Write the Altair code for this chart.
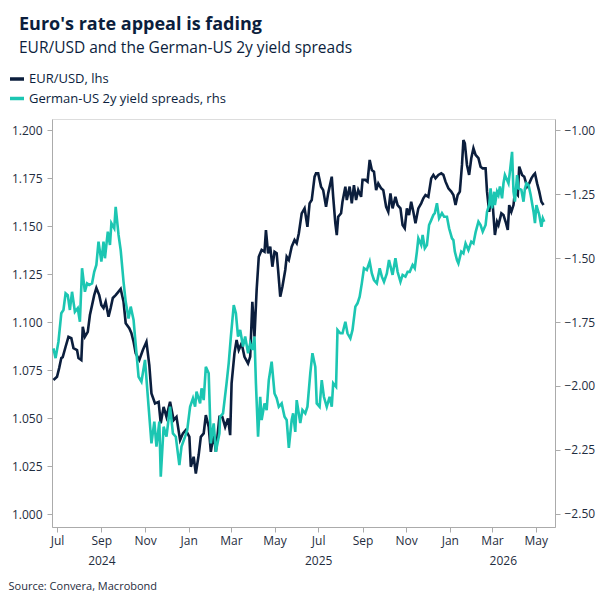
import altair as alt
import pandas as pd

# Days counted from 1 Jul 2024
eur_day = [
    -5, 0, 3, 6, 8, 12, 16, 20, 23, 28,
    30, 34, 36, 39, 43, 46, 49, 52, 55, 59,
    62, 65, 68, 72, 75, 78, 82, 86, 89, 93,
    96, 101, 104, 107, 110, 115, 120, 125, 129, 132,
    137, 142, 145, 149, 153, 158, 163, 167, 172, 176,
    180, 185, 187, 191, 194, 198, 201, 205, 208, 212,
    215, 219, 222, 227, 231, 235, 239, 242, 244, 248,
    251, 254, 258, 262, 267, 270, 273, 276, 279, 282,
    286, 290, 292, 295, 298, 301, 304, 307, 309, 312,
    315, 319, 321, 324, 328, 332, 335, 338, 342, 346,
    350, 353, 356, 360, 362, 365, 369, 372, 376, 379,
    384, 386, 389, 391, 393, 397, 399, 403, 405, 409,
    412, 415, 418, 421, 425, 427, 431, 434, 437, 440,
    443, 446, 449, 453, 456, 460, 463, 466, 469, 473,
    476, 480, 483, 486, 489, 492, 495, 498, 501, 505,
    509, 512, 515, 519, 523, 526, 529, 533, 537, 540,
    543, 547, 551, 554, 557, 560, 563, 566, 568, 570,
    573, 576, 579, 582, 585, 589, 592, 595, 599, 601,
    604, 606, 609, 612, 615, 617, 621, 624, 627, 630,
    632, 635, 638, 640, 644, 646, 650, 653, 657, 660,
    663, 666, 668, 671, 674, 677, 680,
]
eur_val = [
    1.0698, 1.0715, 1.0760, 1.0812, 1.0817, 1.0871, 1.0923, 1.0916, 1.0864, 1.0854,
    1.0812, 1.0802, 1.0975, 1.0923, 1.0949, 1.1036, 1.1088, 1.1140, 1.1177, 1.1140,
    1.1088, 1.1073, 1.1105, 1.1027, 1.1073, 1.1125, 1.1140, 1.1158, 1.1172, 1.1105,
    1.0994, 1.0968, 1.0942, 1.0897, 1.0837, 1.0802, 1.0854, 1.0897, 1.0776, 1.0628,
    1.0576, 1.0584, 1.0472, 1.0558, 1.0506, 1.0584, 1.0489, 1.0506, 1.0385, 1.0420,
    1.0437, 1.0402, 1.0246, 1.0298, 1.0211, 1.0307, 1.0402, 1.0420, 1.0515, 1.0454,
    1.0324, 1.0420, 1.0324, 1.0506, 1.0506, 1.0454, 1.0498, 1.0411, 1.0680, 1.0837,
    1.0906, 1.0854, 1.0889, 1.0819, 1.0784, 1.0819, 1.1105, 1.0923, 1.1166, 1.1340,
    1.1375, 1.1366, 1.1479, 1.1358, 1.1392, 1.1288, 1.1366, 1.1358, 1.1271, 1.1132,
    1.1184, 1.1271, 1.1340, 1.1323, 1.1392, 1.1427, 1.1410, 1.1462, 1.1566, 1.1592,
    1.1496, 1.1618, 1.1635, 1.1757, 1.1774, 1.1774, 1.1705, 1.1687, 1.1600, 1.1670,
    1.1757, 1.1652, 1.1514, 1.1453, 1.1548, 1.1566, 1.1626, 1.1705, 1.1635, 1.1705,
    1.1618, 1.1713, 1.1635, 1.1687, 1.1652, 1.1740, 1.1740, 1.1731, 1.1844, 1.1792,
    1.1783, 1.1687, 1.1722, 1.1696, 1.1687, 1.1600, 1.1574, 1.1670, 1.1592, 1.1652,
    1.1609, 1.1592, 1.1505, 1.1488, 1.1592, 1.1557, 1.1626, 1.1574, 1.1514, 1.1592,
    1.1618, 1.1644, 1.1661, 1.1652, 1.1748, 1.1766, 1.1748, 1.1766, 1.1774, 1.1766,
    1.1731, 1.1696, 1.1679, 1.1661, 1.1609, 1.1661, 1.1679, 1.1818, 1.1948, 1.1931,
    1.1818, 1.1766, 1.1853, 1.1905, 1.1870, 1.1853, 1.1809, 1.1800, 1.1800, 1.1679,
    1.1574, 1.1626, 1.1609, 1.1453, 1.1522, 1.1505, 1.1566, 1.1557, 1.1522, 1.1479,
    1.1609, 1.1574, 1.1609, 1.1679, 1.1661, 1.1809, 1.1766, 1.1757, 1.1705, 1.1722,
    1.1748, 1.1766, 1.1774, 1.1722, 1.1679, 1.1626, 1.1609,
]

spr_day = [
    -5, -2, 2, 6, 9, 12, 15, 18, 21, 25,
    29, 32, 35, 37, 39, 42, 45, 49, 52, 55,
    58, 62, 65, 67, 71, 74, 76, 80, 82, 86,
    89, 93, 96, 100, 103, 107, 109, 114, 118, 123,
    128, 132, 136, 139, 143, 145, 149, 153, 158, 162,
    166, 171, 174, 179, 182, 186, 190, 193, 195, 200,
    202, 205, 208, 212, 215, 219, 222, 227, 228, 232,
    237, 240, 243, 247, 250, 253, 256, 260, 263, 267,
    270, 273, 276, 278, 281, 284, 286, 290, 293, 296,
    300, 304, 307, 310, 314, 318, 321, 324, 328, 330,
    333, 335, 340, 343, 347, 350, 354, 357, 361, 363,
    367, 370, 373, 377, 381, 384, 386, 390, 392, 396,
    399, 403, 406, 410, 413, 417, 420, 423, 426, 429,
    433, 437, 440, 443, 447, 451, 454, 457, 461, 464,
    469, 473, 476, 480, 483, 487, 490, 493, 497, 500,
    503, 505, 509, 511, 514, 517, 520, 523, 526, 528,
    531, 534, 538, 541, 545, 548, 552, 554, 556, 559,
    561, 565, 568, 571, 575, 579, 582, 585, 589, 592,
    595, 599, 601, 604, 606, 608, 611, 612, 615, 617,
    619, 622, 624, 626, 629, 631, 633, 636, 638, 640,
    643, 645, 649, 652, 654, 656, 659, 662, 666, 668,
    670, 674, 677, 679, 681,
]
spr_val = [
    -1.853, -1.891, -1.827, -1.716, -1.703, -1.638, -1.645, -1.703, -1.632, -1.710,
    -1.696, -1.749, -1.540, -1.586, -1.632, -1.599, -1.605, -1.599, -1.554, -1.527,
    -1.436, -1.514, -1.436, -1.501, -1.397, -1.449, -1.364, -1.384, -1.300, -1.410,
    -1.469, -1.593, -1.671, -1.736, -1.690, -1.742, -1.807, -1.964, -1.983, -1.898,
    -2.081, -2.224, -2.139, -2.237, -2.139, -2.354, -2.159, -2.198, -2.081, -2.185,
    -2.198, -2.309, -2.237, -2.198, -2.172, -2.081, -2.048, -2.081, -2.022, -2.068,
    -2.009, -2.055, -1.925, -1.950, -2.224, -2.146, -2.257, -2.185, -2.120, -2.107,
    -1.989, -1.911, -1.807, -1.684, -1.716, -1.807, -1.781, -1.846, -1.807, -1.872,
    -1.833, -1.859, -1.807, -1.989, -2.198, -2.042, -2.133, -2.068, -2.094, -1.977,
    -1.905, -2.029, -2.048, -2.081, -2.068, -2.120, -2.133, -2.242, -2.133, -2.107,
    -2.179, -2.055, -2.145, -2.094, -2.107, -2.081, -1.950, -1.872, -1.925, -2.068,
    -2.081, -1.977, -2.042, -2.081, -2.042, -2.081, -1.989, -2.003, -1.781, -1.794,
    -1.794, -1.749, -1.794, -1.814, -1.781, -1.690, -1.677, -1.651, -1.599, -1.540,
    -1.547, -1.514, -1.560, -1.586, -1.599, -1.540, -1.573, -1.593, -1.560, -1.508,
    -1.566, -1.501, -1.554, -1.593, -1.566, -1.573, -1.554, -1.554, -1.527, -1.540,
    -1.475, -1.423, -1.449, -1.410, -1.462, -1.449, -1.371, -1.352, -1.332, -1.325,
    -1.286, -1.345, -1.325, -1.339, -1.339, -1.384, -1.423, -1.430, -1.475, -1.508,
    -1.521, -1.475, -1.482, -1.443, -1.469, -1.436, -1.443, -1.400, -1.358, -1.371,
    -1.397, -1.371, -1.319, -1.293, -1.228, -1.306, -1.241, -1.293, -1.241, -1.254,
    -1.221, -1.267, -1.208, -1.176, -1.195, -1.208, -1.163, -1.085, -1.241, -1.280,
    -1.176, -1.228, -1.234, -1.280, -1.228, -1.208, -1.215, -1.254, -1.319, -1.364,
    -1.293, -1.332, -1.378, -1.345, -1.358,
]

series_names = ["EUR/USD, lhs", "German-US 2y yield spreads, rhs"]
series_colors = ["#0B1E3D", "#1CC6B2"]
left_ticks = [1.000, 1.025, 1.050, 1.075, 1.100, 1.125, 1.150, 1.175, 1.200]
right_ticks = [-2.50, -2.25, -2.00, -1.75, -1.50, -1.25, -1.00]
month_ticks = [(2024, 7), (2024, 9), (2024, 11), (2025, 1), (2025, 3), (2025, 5),
               (2025, 7), (2025, 9), (2025, 11), (2026, 1), (2026, 3), (2026, 5)]
year_labels = [(2024, 9, 1), (2025, 7, 1), (2026, 3, 16)]

BASE = pd.Timestamp("2024-07-01")
eur = pd.DataFrame({"date": BASE + pd.to_timedelta(eur_day, unit="D"),
                    "value": eur_val, "series": series_names[0]})
spr = pd.DataFrame({"date": BASE + pd.to_timedelta(spr_day, unit="D"),
                    "value": spr_val, "series": series_names[1]})

FONT = "Open Sans"
NAVY = "#0B1E3D"
TXT = "#1F2D40"
GREY = "#ABABAB"

xscale = alt.Scale(domain=[alt.DateTime(year=2024, month=6, date=24),
                           alt.DateTime(year=2026, month=5, date=28)])

month_axis = alt.Axis(
    values=[alt.DateTime(year=y, month=m, date=1) for y, m in month_ticks],
    format="%b", title=None, grid=False, tickSize=5, tickColor=GREY,
    domainColor=GREY, labelFont=FONT, labelFontSize=12, labelColor=TXT,
    labelPadding=3, labelOverlap=False, labelFlush=False, orient="bottom",
)
year_axis = alt.Axis(
    values=[alt.DateTime(year=y, month=m, date=d) for y, m, d in year_labels],
    format="%Y", grid=False, ticks=False, domain=False, orient="bottom",
    labelFont=FONT, labelFontSize=12, labelColor=TXT,
    labelPadding=28, labelOverlap=False, labelFlush=False,
    title="Source: Convera, Macrobond", titleFont=FONT, titleFontSize=11,
    titleFontWeight="normal", titleColor=TXT, titleAnchor="start",
    titleAlign="left", titleBaseline="alphabetic", titleX=-44, titleY=62,
)

color_scale = alt.Scale(domain=series_names, range=series_colors)
legend = alt.Legend(
    orient="none", legendX=-44, legendY=-49, title=None, symbolType="stroke",
    symbolSize=196, symbolStrokeWidth=3.5, labelFont=FONT, labelFontSize=13,
    labelColor=NAVY, rowPadding=3.5, padding=0, labelOffset=3, labelLimit=400,
)

eur_line = alt.Chart(eur).mark_line(strokeWidth=2.6).encode(
    x=alt.X("date:T", scale=xscale, axis=month_axis),
    y=alt.Y("value:Q",
            scale=alt.Scale(domain=[0.99323, 1.20573], nice=False, zero=False),
            axis=alt.Axis(values=left_ticks, format=".3f", title=None, grid=False,
                          tickSize=5, tickColor=GREY, domainColor=GREY,
                          labelFont=FONT, labelFontSize=12, labelColor=TXT,
                          labelPadding=5, orient="left")),
    color=alt.Color("series:N", scale=color_scale, legend=legend),
)

spr_line = alt.Chart(spr).mark_line(strokeWidth=2.6).encode(
    x=alt.X("date:T", scale=xscale, axis=year_axis),
    y=alt.Y("value:Q",
            scale=alt.Scale(domain=[-2.5508, -0.957], nice=False, zero=False),
            axis=alt.Axis(values=right_ticks, format=".2f", title=None, grid=False,
                          tickSize=5, tickColor=GREY, domainColor=GREY,
                          labelFont=FONT, labelFontSize=12, labelColor=TXT,
                          labelPadding=4, orient="right")),
    color=alt.Color("series:N", scale=color_scale, legend=legend),
)

chart = alt.layer(eur_line, spr_line).resolve_scale(
    y="independent"
).resolve_axis(
    x="independent", y="independent"
).properties(
    width=503, height=408,
    autosize=alt.AutoSizeParams(type="none"),
    padding={"left": 52, "top": 119, "right": 51, "bottom": 80},
    title=alt.TitleParams(
        text="Euro's rate appeal is fading",
        subtitle="EUR/USD and the German-US 2y yield spreads",
        anchor="start", frame="group", dx=-33, offset=14,
        font=FONT, fontSize=18, fontWeight="bold", color=NAVY,
        subtitleFont=FONT, subtitleFontSize=15.5, subtitleColor=NAVY,
        subtitlePadding=7,
    ),
).configure_view(stroke=None).configure(background="white")

chart.save("out.html", embed_options={"renderer": "svg", "actions": False})
